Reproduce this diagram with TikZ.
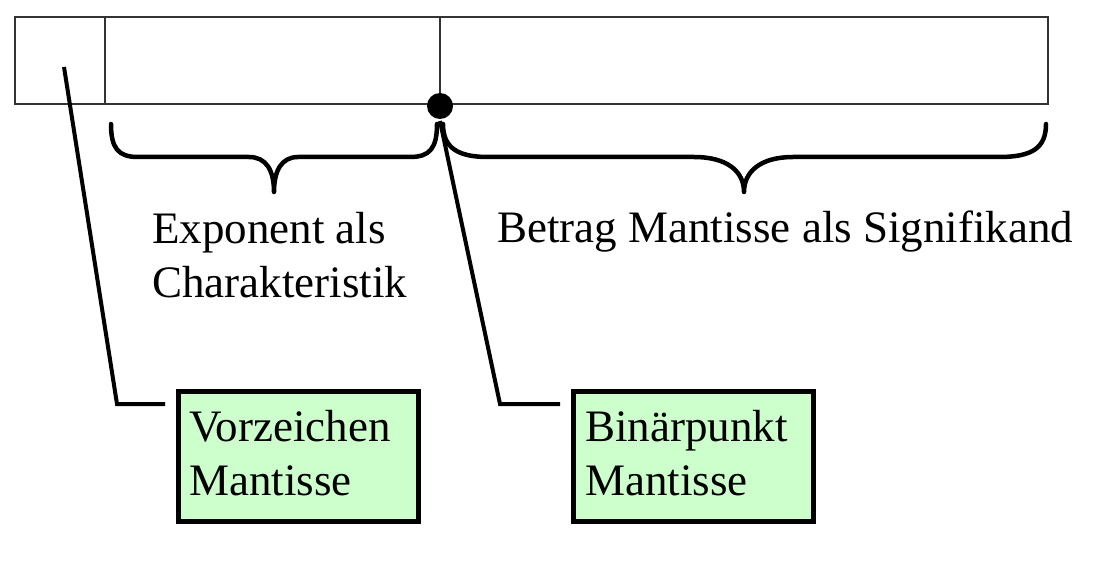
\documentclass[tikz,border=0pt]{standalone}
\usepackage{fontspec}
\setmainfont{Liberation Serif}
\begin{document}
\begin{tikzpicture}[x=1pt,y=-1pt,
  cell/.style={draw=black!80,line width=1.3pt},
  bracepath/.style={line width=4.5pt,line cap=round,line join=round},
  lead/.style={line width=4pt,shorten >=11pt},
  label/.style={font=\fontsize{45}{54}\selectfont,align=left,inner sep=0pt,anchor=base west},
  greenbox/.style={draw,line width=4.5pt,fill=green!20,inner sep=0pt,anchor=north west,minimum width=240pt,minimum height=130pt}]
\useasboundingbox (0,0) rectangle (1102,561);
% register
\draw[cell] (15,17) rectangle (1048,104);
\draw[cell] (105,17) -- (105,104);
\draw[cell] (440,17) -- (440,104);
% braces
\draw[bracepath] (111,124) .. controls (111,148) and (118,157) .. (138,157) -- (249,157)
  .. controls (266,157) and (274,170) .. (274,192)
  .. controls (274,170) and (282,157) .. (298,157) -- (410,157)
  .. controls (430,157) and (437,148) .. (437,124);
\draw[bracepath] (443,124) .. controls (443,148) and (458,157) .. (488,157) -- (694,157)
  .. controls (728,157) and (744,172) .. (744,192)
  .. controls (744,172) and (760,157) .. (793,157) -- (999,157)
  .. controls (1032,157) and (1046,148) .. (1046,124);
% texts (anchor = baseline of the last line)
\node[label] (expo) at (152,297) {Exponent als\\Charakteristik};
\node[label] (betrag) at (497,243) {Betrag Mantisse als Signifikand};
% boxes
\node[greenbox] (vz) at (176,389) {};
\node[greenbox] (bp) at (571,389) {};
\node[label] (vzt) at (189,495) {Vorzeichen\\Mantisse};
\node[label] (bpt) at (585,495) {Binärpunkt\\Mantisse};
% leads
\coordinate (s0) at (64,67);
\coordinate (s1) at (117,404);
\coordinate (b0) at (440,121);
\coordinate (b1) at (500,404);
\draw[lead] (s0) -- (s1) -- (s1 -| vz.west);
\draw[lead] (b0) -- (b1) -- (b1 -| bp.west);
\fill (440,106) circle (13pt);
\end{tikzpicture}
\end{document}
